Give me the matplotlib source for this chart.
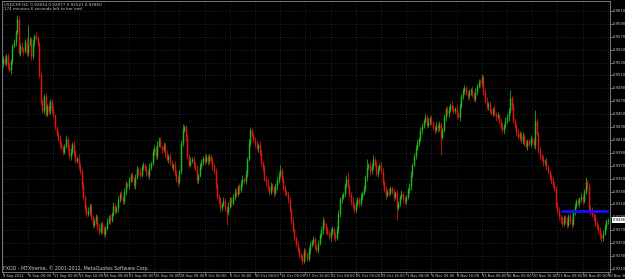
import matplotlib
matplotlib.use("Agg")
import matplotlib.pyplot as plt
import matplotlib.transforms as mtransforms

symbol_title = "USDCHF,H4  0.92834 0.92877 0.92521 0.92860"
timer_text = "174 minutes 6 seconds left to bar end"
footer_text = "FXDD - MTXtreme, © 2001-2012, MetaQuotes Software Corp."

first_open = 0.9528
closes = [
    0.9536, 0.9530, 0.9540, 0.9524, 0.9518, 0.9532, 0.9555, 0.9562, 0.9578, 0.9598,
    0.9545, 0.9556, 0.9550, 0.9548, 0.9562, 0.9545, 0.9558, 0.9566, 0.9540, 0.9560,
    0.9572, 0.9568, 0.9560, 0.9510, 0.9470, 0.9455, 0.9478, 0.9450, 0.9462, 0.9455,
    0.9470, 0.9458, 0.9448, 0.9430, 0.9420, 0.9412, 0.9405, 0.9398, 0.9392, 0.9400,
    0.9412, 0.9398, 0.9385, 0.9392, 0.9404, 0.9390, 0.9378, 0.9382, 0.9370, 0.9362,
    0.9340, 0.9322, 0.9305, 0.9295, 0.9300, 0.9308, 0.9290, 0.9278, 0.9284, 0.9290,
    0.9275, 0.9268, 0.9280, 0.9272, 0.9265, 0.9274, 0.9283, 0.9290, 0.9286, 0.9296,
    0.9308, 0.9300, 0.9305, 0.9318, 0.9326, 0.9320, 0.9315, 0.9330, 0.9342, 0.9338,
    0.9348, 0.9355, 0.9350, 0.9340, 0.9352, 0.9365, 0.9360, 0.9355, 0.9368, 0.9372,
    0.9366, 0.9360, 0.9355, 0.9368, 0.9375, 0.9392, 0.9398, 0.9385, 0.9402, 0.9410,
    0.9400, 0.9395, 0.9402, 0.9388, 0.9380, 0.9385, 0.9375, 0.9368, 0.9372, 0.9358,
    0.9350, 0.9345, 0.9362, 0.9405, 0.9425, 0.9430, 0.9415, 0.9385, 0.9372, 0.9378,
    0.9380, 0.9372, 0.9365, 0.9348, 0.9355, 0.9370, 0.9376, 0.9382, 0.9378, 0.9384,
    0.9377, 0.9385, 0.9378, 0.9370, 0.9362, 0.9340, 0.9322, 0.9315, 0.9305, 0.9310,
    0.9316, 0.9304, 0.9298, 0.9308, 0.9318, 0.9312, 0.9322, 0.9330, 0.9326, 0.9338,
    0.9333, 0.9344, 0.9350, 0.9346, 0.9358, 0.9380, 0.9405, 0.9425, 0.9418, 0.9410,
    0.9404, 0.9398, 0.9402, 0.9390, 0.9375, 0.9366, 0.9350, 0.9345, 0.9336, 0.9330,
    0.9340, 0.9335, 0.9328, 0.9338, 0.9348, 0.9356, 0.9364, 0.9350, 0.9336, 0.9330,
    0.9326, 0.9318, 0.9302, 0.9285, 0.9270, 0.9258, 0.9248, 0.9240, 0.9232, 0.9228,
    0.9222, 0.9238, 0.9234, 0.9226, 0.9240, 0.9248, 0.9252, 0.9256, 0.9244, 0.9240,
    0.9250, 0.9262, 0.9270, 0.9285, 0.9278, 0.9270, 0.9266, 0.9260, 0.9268, 0.9272,
    0.9262, 0.9258, 0.9272, 0.9295, 0.9318, 0.9322, 0.9326, 0.9340, 0.9350, 0.9338,
    0.9326, 0.9315, 0.9308, 0.9302, 0.9310, 0.9318, 0.9312, 0.9322, 0.9328, 0.9335,
    0.9352, 0.9368, 0.9372, 0.9362, 0.9370, 0.9380, 0.9372, 0.9358, 0.9365, 0.9372,
    0.9362, 0.9345, 0.9332, 0.9325, 0.9330, 0.9328, 0.9335, 0.9330, 0.9322, 0.9328,
    0.9305, 0.9312, 0.9322, 0.9326, 0.9318, 0.9315, 0.9322, 0.9332, 0.9338, 0.9356,
    0.9372, 0.9385, 0.9398, 0.9406, 0.9412, 0.9425, 0.9432, 0.9440, 0.9445, 0.9434,
    0.9438, 0.9444, 0.9436, 0.9430, 0.9425, 0.9432, 0.9428, 0.9435, 0.9415, 0.9425,
    0.9445, 0.9458, 0.9452, 0.9456, 0.9465, 0.9460, 0.9455, 0.9458, 0.9450, 0.9446,
    0.9462, 0.9478, 0.9486, 0.9490, 0.9482, 0.9478, 0.9485, 0.9488, 0.9480, 0.9474,
    0.9484, 0.9494, 0.9500, 0.9498, 0.9508, 0.9485, 0.9470, 0.9462, 0.9466, 0.9455,
    0.9452, 0.9458, 0.9450, 0.9446, 0.9448, 0.9440, 0.9430, 0.9425, 0.9432, 0.9440,
    0.9446, 0.9455, 0.9475, 0.9462, 0.9440, 0.9432, 0.9422, 0.9415, 0.9420, 0.9408,
    0.9416, 0.9405, 0.9400, 0.9408, 0.9404, 0.9412, 0.9408, 0.9402, 0.9440, 0.9420,
    0.9395, 0.9385, 0.9380, 0.9376, 0.9378, 0.9368, 0.9360, 0.9352, 0.9348, 0.9340,
    0.9335, 0.9310, 0.9300, 0.9292, 0.9285, 0.9280, 0.9290, 0.9286, 0.9278, 0.9292,
    0.9284, 0.9280, 0.9298, 0.9308, 0.9315, 0.9312, 0.9318, 0.9322, 0.9316, 0.9330,
    0.9345, 0.9338, 0.9305, 0.9300, 0.9294, 0.9290, 0.9280, 0.9276, 0.9270, 0.9262,
    0.9258, 0.9265, 0.9276, 0.9284, 0.9286,
]
upper_wick_pips = [
    4, 6, 3, 5, 7, 3, 4, 5, 3, 6, 5, 4, 6, 3, 5, 7, 30, 4, 3, 6,
    3, 5, 4, 2, 6, 4, 3, 5, 4, 6, 3, 4, 5, 3, 2, 4, 6, 3, 5, 4,
    5, 3, 4, 6, 3, 5, 4, 3, 6, 4, 3, 5, 2, 4, 6, 3, 5, 4, 3, 5,
    4, 6, 3, 5, 4, 3, 6, 4, 5, 3, 6, 4, 3, 5, 4, 6, 3, 5, 4, 3,
    5, 4, 6, 3, 5, 4, 3, 6, 5, 4, 3, 5, 4, 6, 3, 4, 5, 3, 6, 4,
    4, 3, 5, 4, 6, 3, 5, 4, 3, 5, 6, 4, 3, 5, 10, 4, 3, 5, 4, 6,
    3, 5, 4, 6, 3, 5, 4, 3, 6, 4, 5, 4, 3, 6, 4, 5, 3, 4, 6, 3,
    5, 4, 3, 6, 4, 3, 5, 6, 4, 3, 5, 4, 6, 3, 5, 4, 6, 5, 4, 3,
    4, 5, 3, 6, 4, 3, 5, 4, 6, 3, 5, 4, 3, 6, 4, 5, 8, 3, 4, 5,
    3, 5, 4, 3, 6, 4, 3, 5, 4, 3, 6, 4, 5, 3, 4, 6, 3, 5, 4, 3,
    5, 4, 6, 5, 3, 4, 5, 3, 6, 4, 3, 5, 4, 6, 3, 5, 4, 3, 5, 10,
    4, 3, 6, 4, 5, 3, 4, 6, 3, 5, 4, 12, 3, 5, 4, 6, 3, 5, 4, 3,
    5, 4, 3, 6, 4, 5, 3, 4, 6, 3, 5, 4, 3, 6, 4, 5, 3, 4, 5, 6,
    3, 5, 4, 6, 3, 5, 4, 3, 5, 4, 6, 3, 5, 4, 3, 6, 4, 5, 3, 4,
    5, 3, 4, 6, 3, 5, 4, 3, 6, 4, 5, 3, 4, 6, 3, 5, 4, 3, 5, 4,
    6, 3, 5, 4, 5, 3, 4, 6, 3, 5, 4, 3, 6, 4, 5, 3, 4, 6, 3, 5,
    4, 5, 13, 3, 6, 4, 3, 5, 4, 3, 6, 4, 5, 3, 4, 6, 3, 5, 17, 4,
    3, 5, 4, 6, 3, 5, 4, 3, 6, 4, 5, 3, 4, 6, 3, 5, 4, 3, 5, 4,
    6, 3, 5, 4, 3, 5, 4, 6, 3, 4, 8, 3, 5, 4, 6, 3, 5, 4, 3, 5,
    4, 5, 3, 4, 3,
]
lower_wick_pips = [
    5, 3, 6, 4, 3, 5, 4, 3, 6, 4, 3, 5, 4, 6, 3, 4, 5, 3, 6, 4,
    4, 3, 5, 4, 6, 3, 5, 4, 3, 5, 4, 6, 3, 5, 4, 3, 6, 4, 5, 3,
    3, 5, 4, 6, 3, 5, 4, 3, 5, 4, 6, 3, 5, 4, 3, 6, 4, 5, 3, 4,
    5, 4, 3, 6, 4, 5, 3, 4, 6, 3, 4, 5, 3, 6, 4, 3, 5, 4, 6, 3,
    4, 3, 5, 4, 6, 3, 5, 4, 3, 5, 4, 6, 3, 5, 4, 3, 6, 4, 5, 3,
    3, 5, 4, 6, 3, 5, 4, 3, 6, 4, 5, 8, 3, 4, 5, 3, 6, 4, 5, 3,
    4, 5, 3, 6, 4, 3, 5, 4, 6, 3, 5, 4, 3, 6, 4, 5, 3, 4, 6, 5,
    3, 4, 20, 5, 4, 6, 3, 5, 4, 3, 6, 4, 5, 3, 4, 6, 3, 5, 4, 3,
    5, 4, 6, 3, 5, 4, 3, 6, 4, 5, 3, 4, 6, 3, 5, 4, 3, 5, 4, 6,
    3, 5, 4, 6, 3, 5, 4, 3, 5, 4, 6, 3, 5, 4, 3, 6, 4, 5, 3, 4,
    5, 3, 4, 6, 3, 5, 4, 3, 6, 4, 5, 4, 3, 6, 4, 5, 3, 4, 5, 3,
    4, 6, 3, 5, 4, 3, 6, 4, 5, 3, 4, 5, 3, 6, 4, 5, 3, 4, 6, 3,
    5, 4, 3, 6, 4, 5, 3, 4, 6, 3, 19, 4, 5, 3, 6, 4, 5, 3, 4, 5,
    4, 3, 5, 4, 6, 3, 5, 4, 3, 6, 4, 5, 3, 4, 6, 3, 5, 4, 28, 4,
    3, 5, 4, 6, 3, 5, 4, 3, 5, 4, 6, 3, 5, 4, 3, 6, 4, 5, 3, 4,
    5, 4, 3, 6, 4, 5, 3, 4, 6, 3, 4, 5, 3, 6, 4, 5, 3, 4, 5, 3,
    4, 6, 3, 5, 4, 3, 6, 4, 5, 3, 4, 5, 3, 6, 4, 5, 3, 4, 6, 3,
    5, 4, 3, 6, 4, 5, 3, 4, 6, 3, 4, 5, 3, 6, 4, 5, 3, 4, 5, 3,
    4, 6, 3, 5, 4, 3, 6, 4, 5, 3, 4, 5, 3, 6, 4, 5, 3, 4, 5, 6,
    6, 4, 3, 5, 4,
]

time_labels = [
    "3 Sep 2012", "6 Sep 00:00", "11 Sep 00:00", "13 Sep 16:00", "18 Sep 08:00",
    "21 Sep 00:00", "25 Sep 16:00", "28 Sep 08:00", "3 Oct 00:00", "5 Oct 16:00",
    "10 Oct 08:00", "15 Oct 00:00", "17 Oct 16:00", "22 Oct 08:00", "25 Oct 00:00",
    "29 Oct 16:00", "1 Nov 08:00", "6 Nov 00:00", "8 Nov 16:00", "13 Nov 08:00",
    "16 Nov 00:00", "20 Nov 16:00", "23 Nov 08:00", "28 Nov 00:00", "30 Nov 16:00",
]
bars_per_time_label = 16

price_ticks = [
    0.961, 0.959, 0.957, 0.955, 0.953, 0.951, 0.949, 0.947, 0.945, 0.943, 0.941,
    0.939, 0.937, 0.935, 0.933, 0.931, 0.929, 0.927, 0.925, 0.923, 0.921,
]

hline_level = 0.9300
hline_start_bar = 354
hline_end_bar = 384

UP = "#1fb81f"
DOWN = "#e01414"
TXT = "#c8c8c8"
GRID = "#2c2c38"

W, H = 625, 279
fig = plt.figure(figsize=(W / 100, H / 100), dpi=100, facecolor="black")
ax = fig.add_axes([2 / W, 7 / H, 608 / W, 271 / H])
ax.set_facecolor("black")

n = len(closes)
opens = [first_open] + closes[:-1]
for i in range(n):
    o, c = opens[i], closes[i]
    hi = max(o, c) + upper_wick_pips[i] / 10000
    lo = min(o, c) - lower_wick_pips[i] / 10000
    col = UP if c >= o else DOWN
    ax.vlines(i, lo, hi, color=col, lw=0.55)
    ax.vlines(i, min(o, c), max(o, c), color=col, lw=1.05)

ax.hlines(hline_level, hline_start_bar, hline_end_bar, color="#1010ff", lw=2.0, zorder=5)

ax.set_xlim(-0.63, 385.4)
ax.set_ylim(0.920535, 0.96255)

xt = [k * bars_per_time_label for k in range(len(time_labels))]
ax.set_xticks(xt)
ax.set_xticklabels([])
ax.set_yticks(price_ticks)
ax.set_yticklabels([])
ax.tick_params(axis="x", colors="#909090", length=2, width=0.5, direction="out")
ax.tick_params(axis="y", left=False, right=True, colors="#909090", length=2, width=0.5)
ax.grid(True, color=GRID, linestyle=(0, (1, 2)), lw=0.6)
for s in ax.spines.values():
    s.set_color("#8a8a8a")
    s.set_linewidth(0.6)

tx = mtransforms.blended_transform_factory(ax.transData, ax.transAxes)
for k, lab in enumerate(time_labels):
    ax.text(xt[k] + 0.3, -0.007, lab, transform=tx, ha="left", va="top",
            fontsize=2.6, color=TXT, clip_on=False)

ty = mtransforms.blended_transform_factory(ax.transAxes, ax.transData)
for p in price_ticks:
    ax.text(1.005, p, f"{p:.5f}", transform=ty, ha="left", va="center",
            fontsize=2.7, color=TXT, clip_on=False)

last = closes[-1]
ax.text(1.004, last, f"{last:.5f}", transform=ty, ha="left", va="center",
        fontsize=2.7, color="black", clip_on=False, zorder=10,
        bbox=dict(boxstyle="square,pad=0.15", fc="white", ec="white", lw=0))

fig.text(4 / W, 1 - 4.5 / H, symbol_title, fontsize=3.0, color=TXT, va="center", ha="left")
fig.text(4 / W, 1 - 9.5 / H, timer_text, fontsize=3.0, color=TXT, va="center", ha="left")
fig.text(3 / W, 1 - 268 / H, footer_text, fontsize=3.4, color=TXT, va="center", ha="left")

fig.savefig("out.png", dpi=100, facecolor="black")
